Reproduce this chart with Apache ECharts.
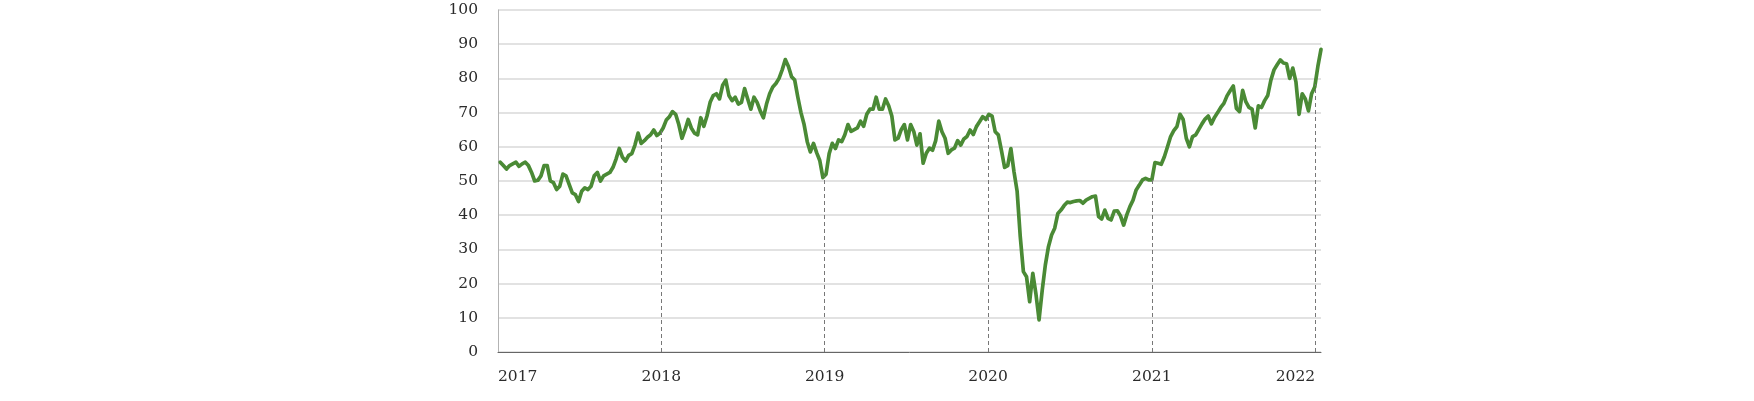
<!DOCTYPE html>
<html>
<head>
<meta charset="utf-8">
<style>
  html, body { margin: 0; padding: 0; background: #fff; }
  #chart { width: 1754px; height: 401px; }
</style>
<script src="https://cdn.jsdelivr.net/npm/echarts@6/dist/echarts.min.js"></script>
</head>
<body>
<div id="chart"></div>
<script>
// weekly readings, first week ends 2017-01-06
const firstWeek = '2017-01-06';

const values2017 = [55.5, 54.5, 53.5, 54.5, 55.0, 55.5, 54.3, 55.0, 55.5, 54.5,
  52.5, 50.0, 50.2, 51.5, 54.5, 54.5, 50.0, 49.5, 47.5, 48.5,
  52.0, 51.5, 49.0, 46.5, 46.0, 44.0, 47.0, 48.0, 47.5, 48.5,
  51.5, 52.5, 50.0, 51.5, 52.0, 52.5, 54.0, 56.5, 59.5, 57.0,
  55.8, 57.5, 58.0, 60.5, 64.0, 61.0, 61.8, 62.8, 63.5, 64.9,
  63.3, 64.0];
const values2018 = [65.5, 67.8, 68.8, 70.3, 69.5, 66.5, 62.5, 65.0, 68.0, 65.5, 64.0,
  63.5, 68.5, 66.0, 69.0, 73.0, 75.0, 75.5, 74.0, 78.0, 79.5,
  75.0, 73.5, 74.5, 72.5, 73.0, 77.0, 74.0, 71.0, 74.5, 73.0,
  70.5, 68.5, 72.5, 75.5, 77.5, 78.5, 80.0, 82.5, 85.5, 83.5,
  80.5, 79.5, 74.5, 70.0, 66.5, 61.5, 58.5, 61.0, 58.3, 56.0,
  51.0];
const values2019 = [52.0, 58.0, 61.0, 59.5, 62.0, 61.5, 63.5, 66.5, 64.5, 65.0, 65.5,
  67.5, 66.0, 69.5, 71.0, 71.0, 74.5, 71.0, 71.0, 74.0, 72.0,
  69.0, 62.0, 62.5, 65.0, 66.5, 62.0, 66.5, 64.5, 60.5, 63.8,
  55.2, 58.1, 59.6, 59.0, 61.8, 67.5, 64.4, 62.5, 58.1, 59.1,
  59.6, 61.8, 60.5, 62.3, 63.0, 64.9, 63.6, 65.9, 67.3, 68.8,
  68.0];
const values2020 = [69.5, 69.0, 64.4, 63.5, 58.9, 54.0, 54.5, 59.5, 52.7, 47.0,
  33.7, 23.5, 22.0, 14.7, 23.0, 17.0, 9.4, 18.0, 25.4, 30.8,
  34.2, 36.2, 40.5, 41.5, 42.8, 43.8, 43.7, 44.0, 44.2, 44.3,
  43.5, 44.4, 44.9, 45.4, 45.6, 39.6, 38.9, 41.5, 39.1, 38.6,
  41.2, 41.3, 39.8, 37.1, 40.1, 42.5, 44.4, 47.4, 48.8, 50.3,
  50.8, 50.3];
const values2021 = [50.3, 55.4, 55.2, 54.9, 57.1, 60.0, 63.0, 64.7, 65.9, 69.5,
  68.0, 62.5, 60.0, 63.0, 63.5, 65.1, 66.7, 68.1, 69.0, 66.7,
  68.6, 70.0, 71.5, 72.7, 74.9, 76.4, 77.8, 71.2, 70.3, 76.5,
  73.2, 71.5, 71.0, 65.5, 72.0, 71.5, 73.5, 75.0, 79.5, 82.5,
  84.0, 85.4, 84.5, 84.3, 80.0, 83.0, 79.0, 69.5, 75.5, 74.0,
  70.5, 75.5, 77.5];
const values2022 = [83.5, 88.5];

const yTicks = [0, 10, 20, 30, 40, 50, 60, 70, 80, 90, 100];
const yearMarks = ['2018-01-01', '2019-01-01', '2020-01-01', '2021-01-01', '2022-01-01'];
const yearLabels = ['2017-01-01', ...yearMarks];

const values = [].concat(values2017, values2018, values2019, values2020, values2021, values2022);
const DAY = 86400000;
const t0 = Date.parse(firstWeek);
const points = values.map((v, i) => [t0 + i * 7 * DAY, v]);

// value of the drawn line at a given time (so the drop lines meet it)
function lineAt(t) {
  for (let i = 0; i < points.length - 1; i++) {
    const a = points[i], b = points[i + 1];
    if (t >= a[0] && t <= b[0]) {
      return a[1] + (b[1] - a[1]) * (t - a[0]) / (b[0] - a[0]);
    }
  }
  return points[points.length - 1][1];
}

const dropLines = yearMarks.map(d => {
  const t = Date.parse(d);
  return [{ coord: [t, 0] }, { coord: [t, lineAt(t)] }];
});

const font = 'DejaVu Serif';
const chart = echarts.init(document.getElementById('chart'));

chart.setOption({
  animation: false,
  grid: { left: 498, right: 433, top: 10, bottom: 49 },
  xAxis: {
    type: 'value',
    min: Date.parse('2017-01-01'),
    max: points[points.length - 1][0],
    axisLine: { show: true, lineStyle: { color: '#666', width: 1 } },
    axisTick: { show: false },
    splitLine: { show: false },
    axisLabel: {
      customValues: yearLabels.map(d => Date.parse(d)),
      formatter: v => String(new Date(v).getUTCFullYear()),
      alignMinLabel: 'left',
      alignMaxLabel: 'right',
      showMinLabel: true,
      showMaxLabel: true,
      margin: 17,
      color: '#2b2b2b',
      fontFamily: font,
      fontSize: 15.5
    }
  },
  yAxis: {
    type: 'value',
    min: yTicks[0],
    max: yTicks[yTicks.length - 1],
    interval: 10,
    axisLine: { show: true, lineStyle: { color: '#b3b3b3', width: 1 } },
    axisTick: { show: false },
    splitLine: { lineStyle: { color: '#d9d9d9', width: 1.5 } },
    axisLabel: {
      margin: 20,
      color: '#2b2b2b',
      fontFamily: font,
      fontSize: 15.5
    }
  },
  series: [{
    type: 'line',
    data: points,
    showSymbol: false,
    lineStyle: { color: '#4a8a35', width: 3.7, cap: 'round', join: 'round' },
    markLine: {
      silent: true,
      symbol: 'none',
      label: { show: false },
      lineStyle: { color: '#777', width: 1, type: [4, 3] },
      data: dropLines
    }
  }]
});
</script>
</body>
</html>
